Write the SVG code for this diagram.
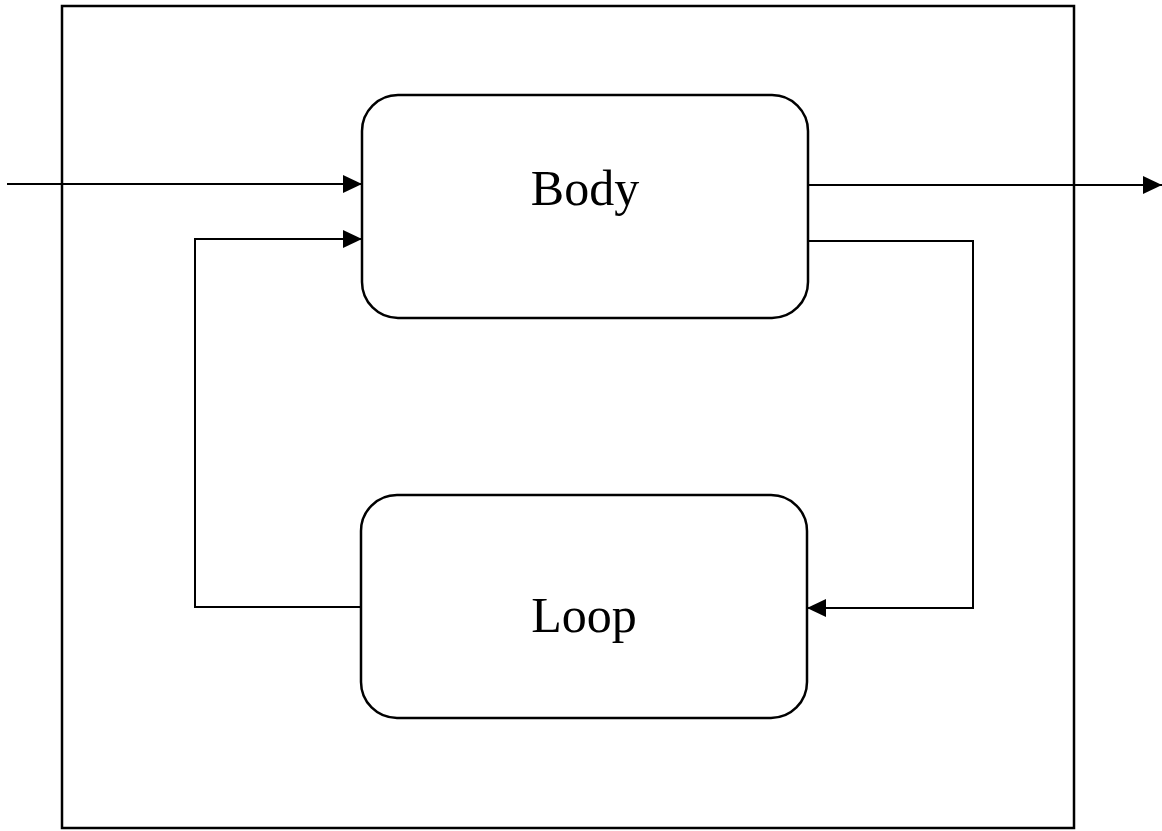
<svg xmlns="http://www.w3.org/2000/svg" width="1162" height="831" viewBox="0 0 1162 831">
<defs>
<style>
.box{fill:none;stroke:#000;stroke-width:2.5}
.ln{fill:none;stroke:#000;stroke-width:2}
.lbl{font-family:"Liberation Serif","Times New Roman",serif;font-size:50px;fill:#000;text-anchor:middle}
</style>
<marker id="ah" viewBox="0 0 19 18" refX="19" refY="9" markerWidth="19" markerHeight="18" markerUnits="userSpaceOnUse" orient="auto">
<path d="M0,0 L19,9 L0,18 Z" fill="#000"/>
</marker>
</defs>
<rect width="1162" height="831" fill="#fff"/>
<g id="frame">
<rect x="62" y="6" width="1012" height="822" class="box"/>
</g>
<g id="body">
<rect x="362" y="95" width="446" height="223" rx="36" ry="36" class="box"/>
<text x="585" y="205" class="lbl">Body</text>
</g>
<g id="loop">
<rect x="361" y="495" width="446" height="223" rx="36" ry="36" class="box"/>
<text x="584" y="632" class="lbl">Loop</text>
</g>
<g id="connectors">
<path d="M7,184 L362,184" class="ln" marker-end="url(#ah)"/>
<path d="M808,185 L1162,185" class="ln" marker-end="url(#ah)"/>
<path d="M808,241 L973,241 L973,608 L807,608" class="ln" marker-end="url(#ah)"/>
<path d="M361,607 L195,607 L195,239 L362,239" class="ln" marker-end="url(#ah)"/>
</g>
</svg>
